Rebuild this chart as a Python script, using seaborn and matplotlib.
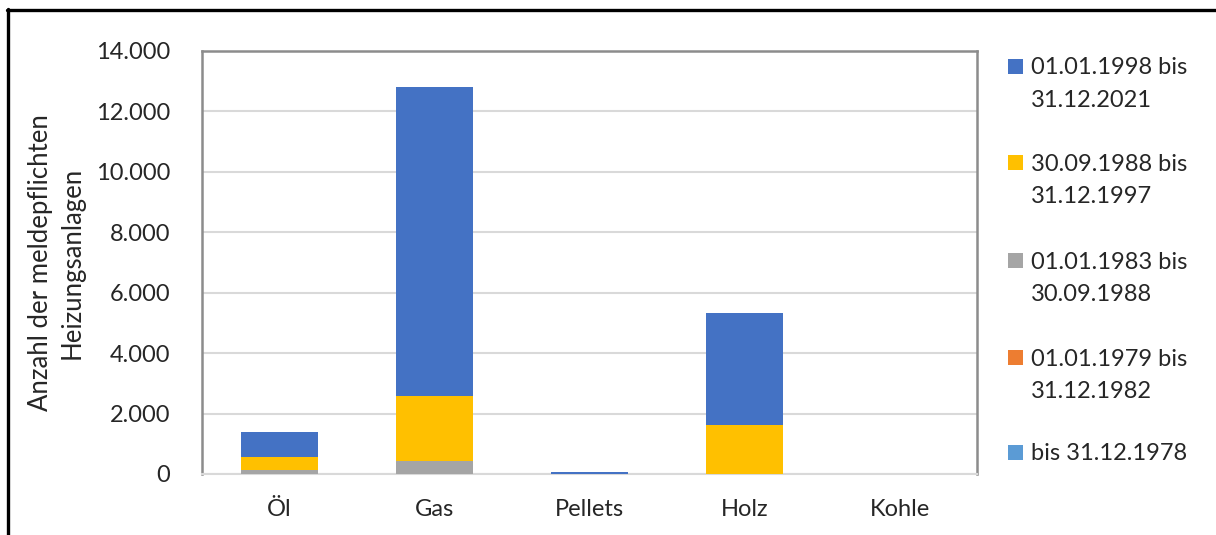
import matplotlib
matplotlib.use("Agg")
import matplotlib.pyplot as plt
from matplotlib.lines import Line2D
from matplotlib.patches import Rectangle
import numpy as np
import pandas as pd
import seaborn as sns

# Heating system types and installation periods
categories = ["Öl", "Gas", "Pellets", "Holz", "Kohle"]

# Stack order from bottom to top
periods = [
    "bis 31.12.1978",
    "01.01.1979 bis\n31.12.1982",
    "01.01.1983 bis\n30.09.1988",
    "30.09.1988 bis\n31.12.1997",
    "01.01.1998 bis\n31.12.2021",
]
colors = ["#5B9BD5", "#ED7D31", "#A5A5A5", "#FFC000", "#4472C4"]

bis_1978 = [0, 0, 0, 0, 0]
p_1979_1982 = [0, 0, 0, 0, 0]
p_1983_1988 = [140, 420, 0, 0, 0]
p_1988_1997 = [430, 2150, 0, 1630, 0]
p_1998_2021 = [810, 10230, 60, 3710, 0]

series = [bis_1978, p_1979_1982, p_1983_1988, p_1988_1997, p_1998_2021]

yticks = [0, 2000, 4000, 6000, 8000, 10000, 12000, 14000]
ytick_labels = ["0", "2.000", "4.000", "6.000", "8.000", "10.000", "12.000", "14.000"]

sns.set_theme(style="white")
plt.rcParams["font.family"] = ["Lato", "DejaVu Sans"]
TEXT = "#262626"
FS = 17

W, H = 1216, 535
fig = plt.figure(figsize=(W / 100, H / 100), dpi=100)
ax = fig.add_axes([202 / W, 1 - 474 / H, (977 - 202) / W, (474 - 51) / H])

# Stacked bars: draw cumulative totals from the top layer downwards
df = pd.DataFrame({"Kategorie": categories})
cum = np.cumsum(np.array(series, dtype=float), axis=0)
for i in range(len(series) - 1, -1, -1):
    df["wert"] = cum[i]
    sns.barplot(data=df, x="Kategorie", y="wert", color=colors[i], width=0.5,
                saturation=1, ax=ax, zorder=3, linewidth=0)

ax.set_xlim(-0.5, len(categories) - 0.5)
ax.set_ylim(0, 14000)
ax.set_yticks(yticks)
ax.set_yticklabels(ytick_labels, fontsize=FS, color=TEXT)
ax.set_xticks(range(len(categories)))
ax.set_xticklabels(categories, fontsize=FS, color=TEXT)
ax.set_xticks(np.arange(-0.5, len(categories), 1.0), minor=True)
ax.tick_params(axis="x", which="major", length=0, pad=18)
ax.tick_params(axis="x", which="minor", length=9, width=1.5, color="#D9D9D9")
ax.tick_params(axis="y", length=0, pad=23)
ax.set_xlabel("")
ax.set_ylabel("Anzahl der meldepflichten\nHeizungsanlagen", fontsize=18.5,
              color=TEXT, linespacing=1.3)
ax.yaxis.set_label_coords(-0.152, 0.5)
ax.yaxis.grid(True, color="#D9D9D9", linewidth=1.5, zorder=0)
ax.set_axisbelow(True)
for side in ["left", "top", "right"]:
    ax.spines[side].set_color("#8C8C8C")
    ax.spines[side].set_linewidth(1.8)
ax.spines["bottom"].set_color("#D9D9D9")
ax.spines["bottom"].set_linewidth(1.5)

# Legend on the right, top entry = top layer
legend_y = [66, 162.5, 260, 357, 452]
for k, i in enumerate(range(len(periods) - 1, -1, -1)):
    yc = legend_y[k]
    fig.add_artist(Rectangle((1008 / W, 1 - (yc + 7.5) / H), 15 / W, 15 / H,
                             transform=fig.transFigure, facecolor=colors[i],
                             edgecolor="none"))
    for j, line in enumerate(periods[i].split("\n")):
        fig.text(1031 / W, 1 - (yc + j * 32.5) / H, line, fontsize=FS,
                 color=TEXT, ha="left", va="center_baseline")

# Outer frame
fig.add_artist(Line2D([7.5 / W, 7.5 / W], [1 - 9 / H, 0], transform=fig.transFigure,
                      color="black", linewidth=2.4))
fig.add_artist(Line2D([6.5 / W, 1], [1 - 10 / H, 1 - 10 / H], transform=fig.transFigure,
                      color="black", linewidth=2.4))

fig.savefig("out.png", dpi=100)
